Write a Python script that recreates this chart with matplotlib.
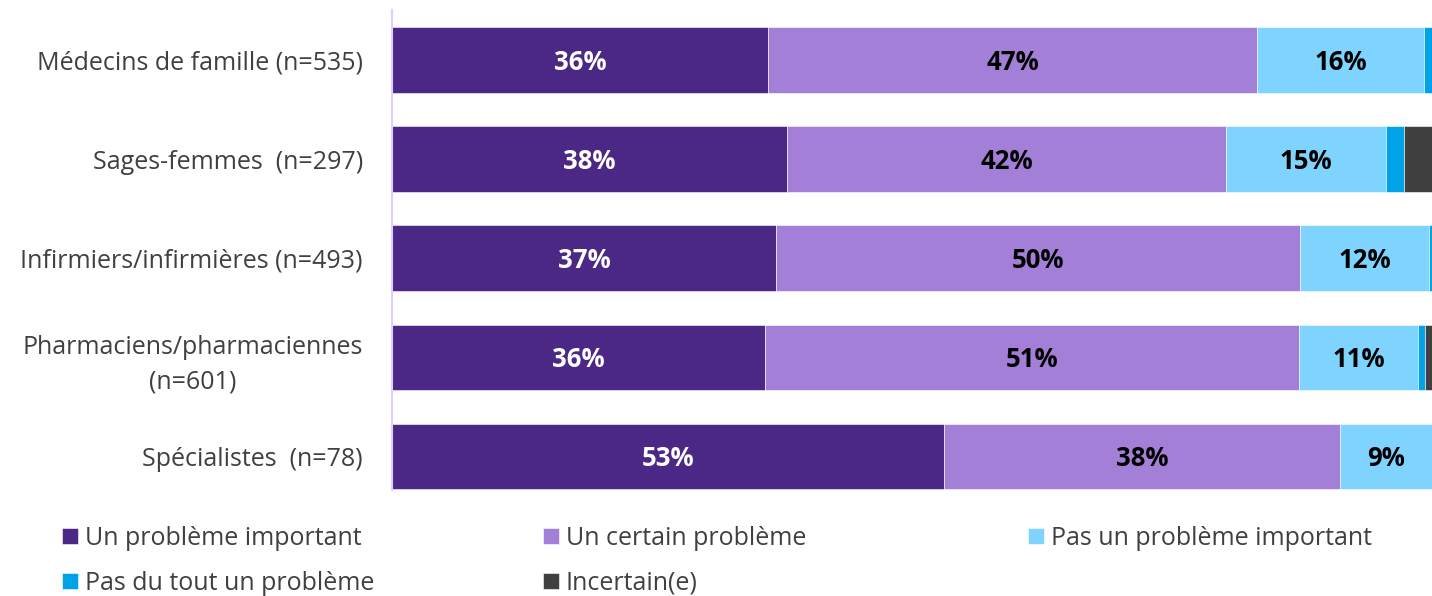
import matplotlib
matplotlib.use("Agg")
import matplotlib.pyplot as plt
import numpy as np

plt.rcParams['font.family'] = ['Open Sans', 'DejaVu Sans']

categories = ["Médecins de famille (n=535)",
              "Sages-femmes  (n=297)",
              "Infirmiers/infirmières (n=493)",
              "Pharmaciens/pharmaciennes\n(n=601)",
              "Spécialistes  (n=78)"]

series_names = ["Un problème important", "Un certain problème",
                "Pas un problème important", "Pas du tout un problème",
                "Incertain(e)"]

important = [36.2, 38.0, 36.9, 35.9, 53.1]
certain = [47.0, 42.2, 50.4, 51.3, 38.1]
pas_important = [16.0, 15.4, 12.4, 11.5, 8.8]
pas_du_tout = [0.8, 1.7, 0.3, 0.6, 0.0]
incertain = [0.0, 2.7, 0.0, 0.7, 0.0]

shown_labels = [["36%", "38%", "37%", "36%", "53%"],
                ["47%", "42%", "50%", "51%", "38%"],
                ["16%", "15%", "12%", "11%", "9%"]]

colors = ["#4B2885", "#A47FD8", "#7FD4FF", "#00A2E8", "#404040"]
text_colors = ["white", "black", "black"]

fig = plt.figure(figsize=(14.32, 5.96), dpi=100)
ax = fig.add_axes([392/1432, 1-490/596, 1-392/1432, (490-10.5)/596])

data = [important, certain, pas_important, pas_du_tout, incertain]
y = np.arange(len(categories))
left = np.zeros(len(categories))
handles = []
for i, vals in enumerate(data):
    b = ax.barh(y, vals, left=left, height=0.66, color=colors[i],
                edgecolor="white", linewidth=0.4, label=series_names[i])
    handles.append(b)
    if i < 3:
        for j, v in enumerate(vals):
            ax.text(left[j] + v/2, y[j] + 0.02, shown_labels[i][j], ha="center",
                    va="center", fontsize=18.5, fontweight="bold",
                    color=text_colors[i])
    left += np.array(vals)

ax.set_xlim(0, 100)
ax.set_ylim(4.34, -0.5)
ax.set_yticks(y)
ax.set_yticklabels(categories, fontsize=18, color="#404040", ha="right",
                   multialignment="center", linespacing=1.5)
ax.tick_params(axis="y", length=0, pad=21)
ax.set_xticks([])
for s in ["top", "right", "bottom"]:
    ax.spines[s].set_visible(False)
ax.spines["left"].set_color("#E0CCFF")
ax.spines["left"].set_linewidth(1.5)

# legend: three columns placed like the original
cols = [[0, 3], [1, 4], [2]]
xs = [52/1432, 533/1432, 1018/1432]
for c, x0 in zip(cols, xs):
    fig.legend([handles[k] for k in c], [series_names[k] for k in c],
               loc="upper left", bbox_to_anchor=(x0, 1-516/596), frameon=False,
               fontsize=18, labelcolor="#404040", handlelength=0.63,
               handleheight=0.63, handletextpad=0.28, labelspacing=0.8,
               borderaxespad=0)

fig.savefig("out.png", dpi=100)
